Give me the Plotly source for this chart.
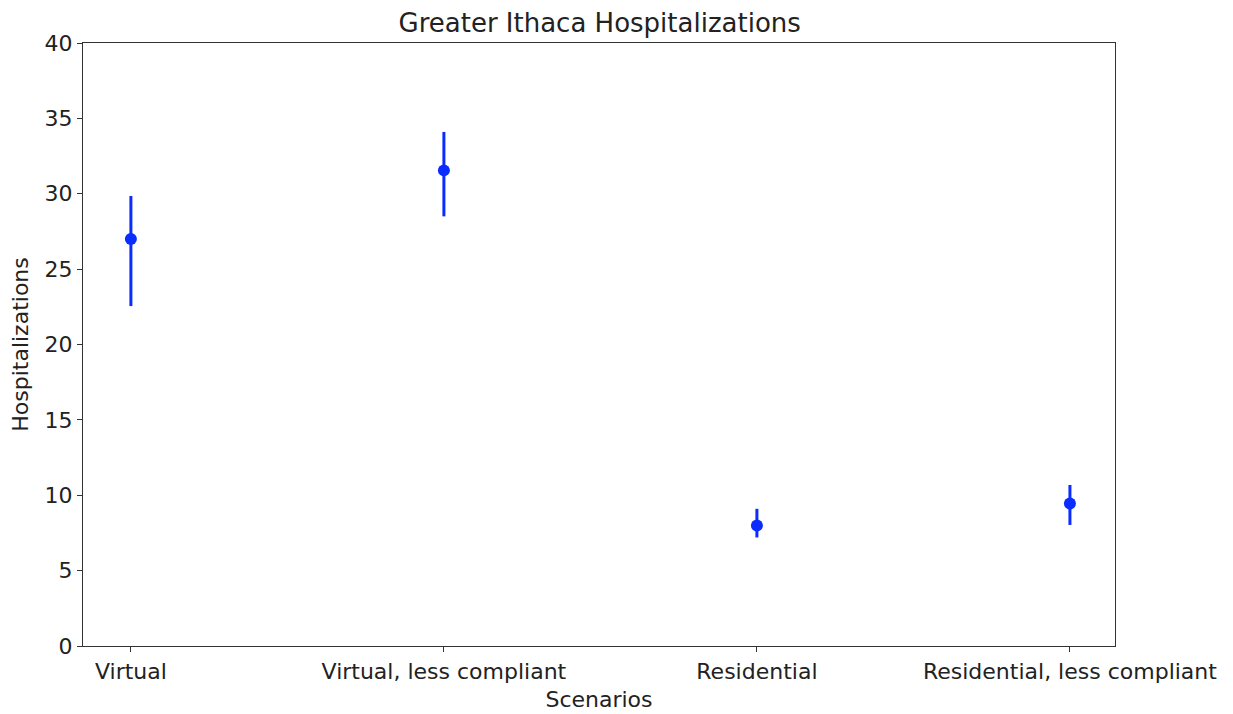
import plotly.graph_objects as go

scenarios = ["Virtual", "Virtual, less compliant", "Residential", "Residential, less compliant"]
means = [27.0, 31.55, 8.0, 9.45]
upper = [29.85, 34.1, 9.1, 10.68]
lower = [22.55, 28.5, 7.2, 8.03]

err_plus = [u - m for u, m in zip(upper, means)]
err_minus = [m - l for m, l in zip(means, lower)]
xpos = list(range(len(scenarios)))

blue = "#0a2cff"
fig = go.Figure()
fig.add_trace(go.Scatter(
    x=xpos, y=means, mode="markers",
    marker=dict(color=blue, size=12),
    error_y=dict(type="data", symmetric=False, array=err_plus, arrayminus=err_minus,
                 color=blue, thickness=3, width=0),
    showlegend=False,
))

font = "DejaVu Sans"
fig.update_layout(
    width=1225, height=706,
    paper_bgcolor="white", plot_bgcolor="white",
    margin=dict(l=75, r=118, t=35, b=68),
    title=dict(text="Greater Ithaca Hospitalizations", x=0.483, xanchor="center",
               y=0.9785, yanchor="middle", font=dict(family=font, size=26, color="#222")),
    font=dict(family=font, size=22, color="#222"),
)
fig.update_xaxes(
    range=[-0.153, 3.144], tickvals=xpos, ticktext=scenarios, automargin=False,
    showgrid=False, zeroline=False, showline=True, mirror=True, linecolor="#333", linewidth=1.2,
    ticks="outside", ticklen=5, tickcolor="#333",
    title=dict(text="Scenarios", font=dict(family=font, size=22), standoff=9),
)
fig.update_yaxes(
    range=[0, 40], dtick=5, automargin=False,
    showgrid=False, zeroline=False, showline=True, mirror=True, linecolor="#333", linewidth=1.2,
    ticks="outside", ticklen=5, tickcolor="#333",
    title=dict(text="Hospitalizations", font=dict(family=font, size=22), standoff=10),
)
fig.write_html("out.html")
